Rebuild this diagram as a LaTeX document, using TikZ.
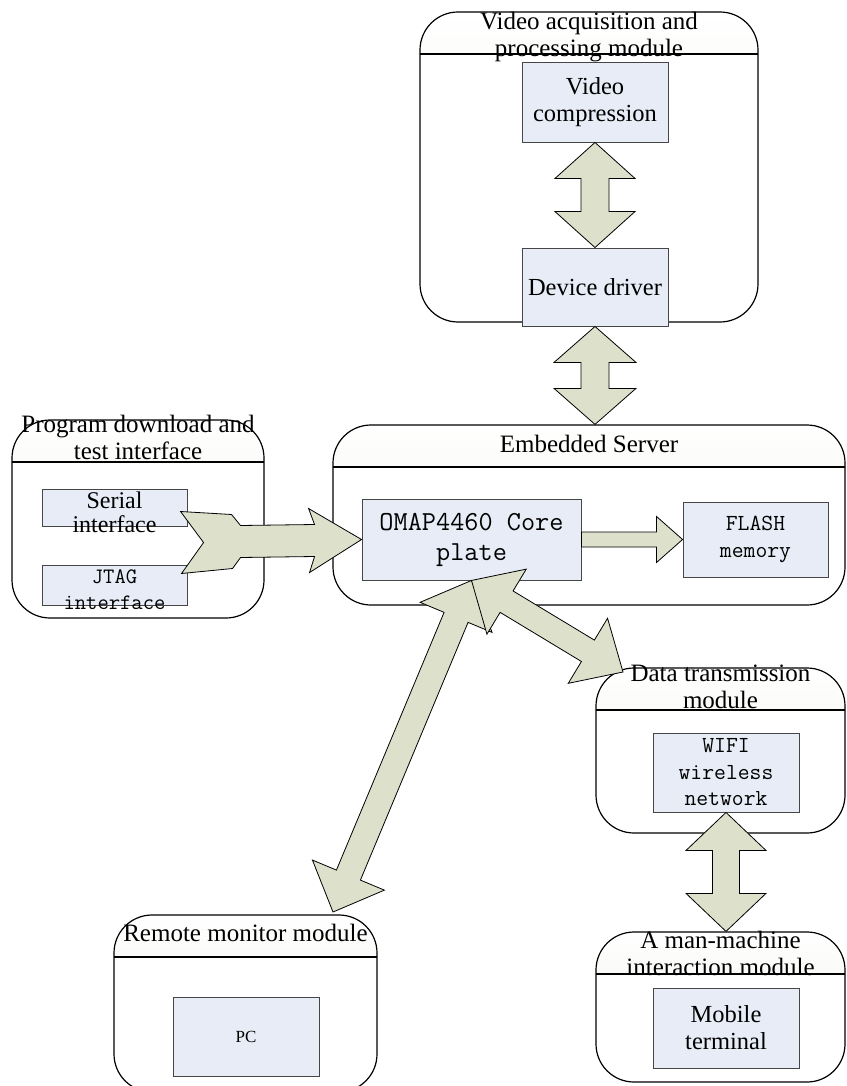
\documentclass[tikz,border=0pt]{standalone}
\usepackage{fontspec}
\setmainfont{Liberation Serif}
\usepackage{tikz}
\usetikzlibrary{calc}

\definecolor{boxblue}{RGB}{231,236,247}
\definecolor{arrowgreen}{RGB}{221,225,204}
\definecolor{headgray}{RGB}{236,236,228}
\definecolor{edgegray}{RGB}{70,70,70}

% double headed block arrow: from, to, shaft half width, head half width, head length
\newcommand\dblarrow[5]{%
  \path (#1) coordinate (ba-a) (#2) coordinate (ba-b)
    ($(ba-a)!#5!(ba-b)$) coordinate (ba-ha)
    ($(ba-b)!#5!(ba-a)$) coordinate (ba-hb);
  \draw[blockarrow] (ba-a)
    -- ($(ba-ha)!#4!90:(ba-b)$) -- ($(ba-ha)!#3!90:(ba-b)$)
    -- ($(ba-hb)!#3!-90:(ba-a)$) -- ($(ba-hb)!#4!-90:(ba-a)$)
    -- (ba-b)
    -- ($(ba-hb)!#4!90:(ba-a)$) -- ($(ba-hb)!#3!90:(ba-a)$)
    -- ($(ba-ha)!#3!-90:(ba-b)$) -- ($(ba-ha)!#4!-90:(ba-b)$)
    -- cycle;}
% single headed block arrow, same arguments
\newcommand\onearrow[5]{%
  \path (#1) coordinate (ba-a) (#2) coordinate (ba-b)
    ($(ba-b)!#5!(ba-a)$) coordinate (ba-hb);
  \draw[blockarrow] ($(ba-a)!#3!90:(ba-b)$)
    -- ($(ba-hb)!#3!-90:(ba-a)$) -- ($(ba-hb)!#4!-90:(ba-a)$)
    -- (ba-b)
    -- ($(ba-hb)!#4!90:(ba-a)$) -- ($(ba-hb)!#3!90:(ba-a)$)
    -- ($(ba-a)!#3!-90:(ba-b)$) -- cycle;}

\begin{document}
\begin{tikzpicture}[x=1pt,y=-1pt,
  module/.style n args={2}{draw=black,line width=1.2pt,rounded corners=38pt,
    minimum width=#1pt,minimum height=#2pt,inner sep=0pt,
    path picture={
      \shade[sharp corners,top color=white,bottom color=headgray]
        (path picture bounding box.north west) rectangle ([yshift=-42pt]path picture bounding box.north east);
      \draw[sharp corners,line width=1.2pt]
        ([yshift=-42pt]path picture bounding box.north west) -- ([yshift=-42pt]path picture bounding box.north east);}},
  title/.style={font=\fontsize{25}{27}\selectfont,align=center,inner sep=0pt},
  box/.style n args={2}{draw=edgegray,fill=boxblue,line width=0.9pt,
    minimum width=#1pt,minimum height=#2pt,inner sep=0pt,align=center,
    font=\fontsize{24.5}{27}\selectfont},
  boxtext/.style={font=\fontsize{24}{24}\selectfont,align=center,inner sep=0pt},
  mono/.style={font=\ttfamily\fontsize{23}{26.5}\selectfont},
  blockarrow/.style={draw=black,fill=arrowgreen,line width=0.8pt,line join=miter}]
\useasboundingbox (0,0) rectangle (846,1086);

\node[module={338}{310}] (vidmod) at (589,167) {};
\node[module={252}{198}] (progmod) at (138,519) {};
\node[module={512}{180}] (servmod) at (589,515) {};
\node[module={249}{165}] (datamod) at (720.5,750.5) {};
\node[module={249}{150}] (hmimod) at (720.5,1007) {};
\node[module={263}{177}] (monmod) at (245.5,1003.5) {};

\node[title,anchor=south] (vidtitle) at ([yshift=-51pt]vidmod.north) {Video acquisition and\\processing module};
\node[title,anchor=south] (progtitle) at ([yshift=-41pt]progmod.north) {Program download and\\test interface};
\node[title,anchor=base] (servtitle) at ([yshift=-28pt]servmod.north) {Embedded Server};
\node[title,anchor=south] (datatitle) at ([yshift=-42pt]datamod.north) {Data transmission\\module};
\node[title,anchor=south] (hmititle) at ([yshift=-45pt]hmimod.north) {A man-machine\\interaction module};
\node[title,anchor=base] (montitle) at ([yshift=-27pt]monmod.north) {Remote monitor module};

\node[box={146}{80}] (vcomp) at (595,102) {Video\\compression};
\node[box={146}{78}] (drv) at (595,287) {Device driver};
\node[box={145}{37},label={[boxtext,yshift=-5pt]center:Serial\\interface}] (serial) at (114.5,507.5) {};
\node[box={145}{40},label={[boxtext,font=\ttfamily\fontsize{22}{26}\selectfont,yshift=-5pt]center:JTAG\\interface}] (jtag) at (114.5,585) {};
\node[box={219}{81},font=\ttfamily\fontsize{27.5}{30}\selectfont] (omap) at (471.5,539.5) {OMAP4460 Core\\plate};
\node[box={145}{75},mono] (flash) at (755.5,539.5) {FLASH\\memory};
\node[box={146}{79},mono] (wifi) at (726,772.5) {WIFI\\wireless\\network};
\node[box={146}{80}] (mobile) at (726,1028) {Mobile\\terminal};
\node[box={146}{79},font=\fontsize{17}{20}\selectfont] (pc) at (246,1036.5) {PC};

\coordinate (montip) at (333,912);
\coordinate (datatip) at (623,672);

\dblarrow{vcomp.south}{drv.north}{14pt}{40pt}{36pt}
\dblarrow{drv.south}{drv.south |- servmod.north}{14pt}{41pt}{36pt}
\draw[blockarrow] (omap.west) -- +(-53,-31) -- +(-47,-15) -- +(-121,-14) -- +(-130,-25)
  -- +(-181,-28) -- +(-158,3) -- +(-180,34) -- +(-129,29) -- +(-121,18)
  -- +(-47,17) -- +(-52,33) -- cycle;
\onearrow{omap.east}{flash.west}{7.5pt}{23pt}{26pt}
\dblarrow{omap.south}{montip}{13pt}{39pt}{40pt}
\dblarrow{omap.south}{datatip}{12.5pt}{38pt}{41pt}
\dblarrow{wifi.south}{wifi.south |- hmimod.north}{13.5pt}{40pt}{38pt}
\end{tikzpicture}
\end{document}
